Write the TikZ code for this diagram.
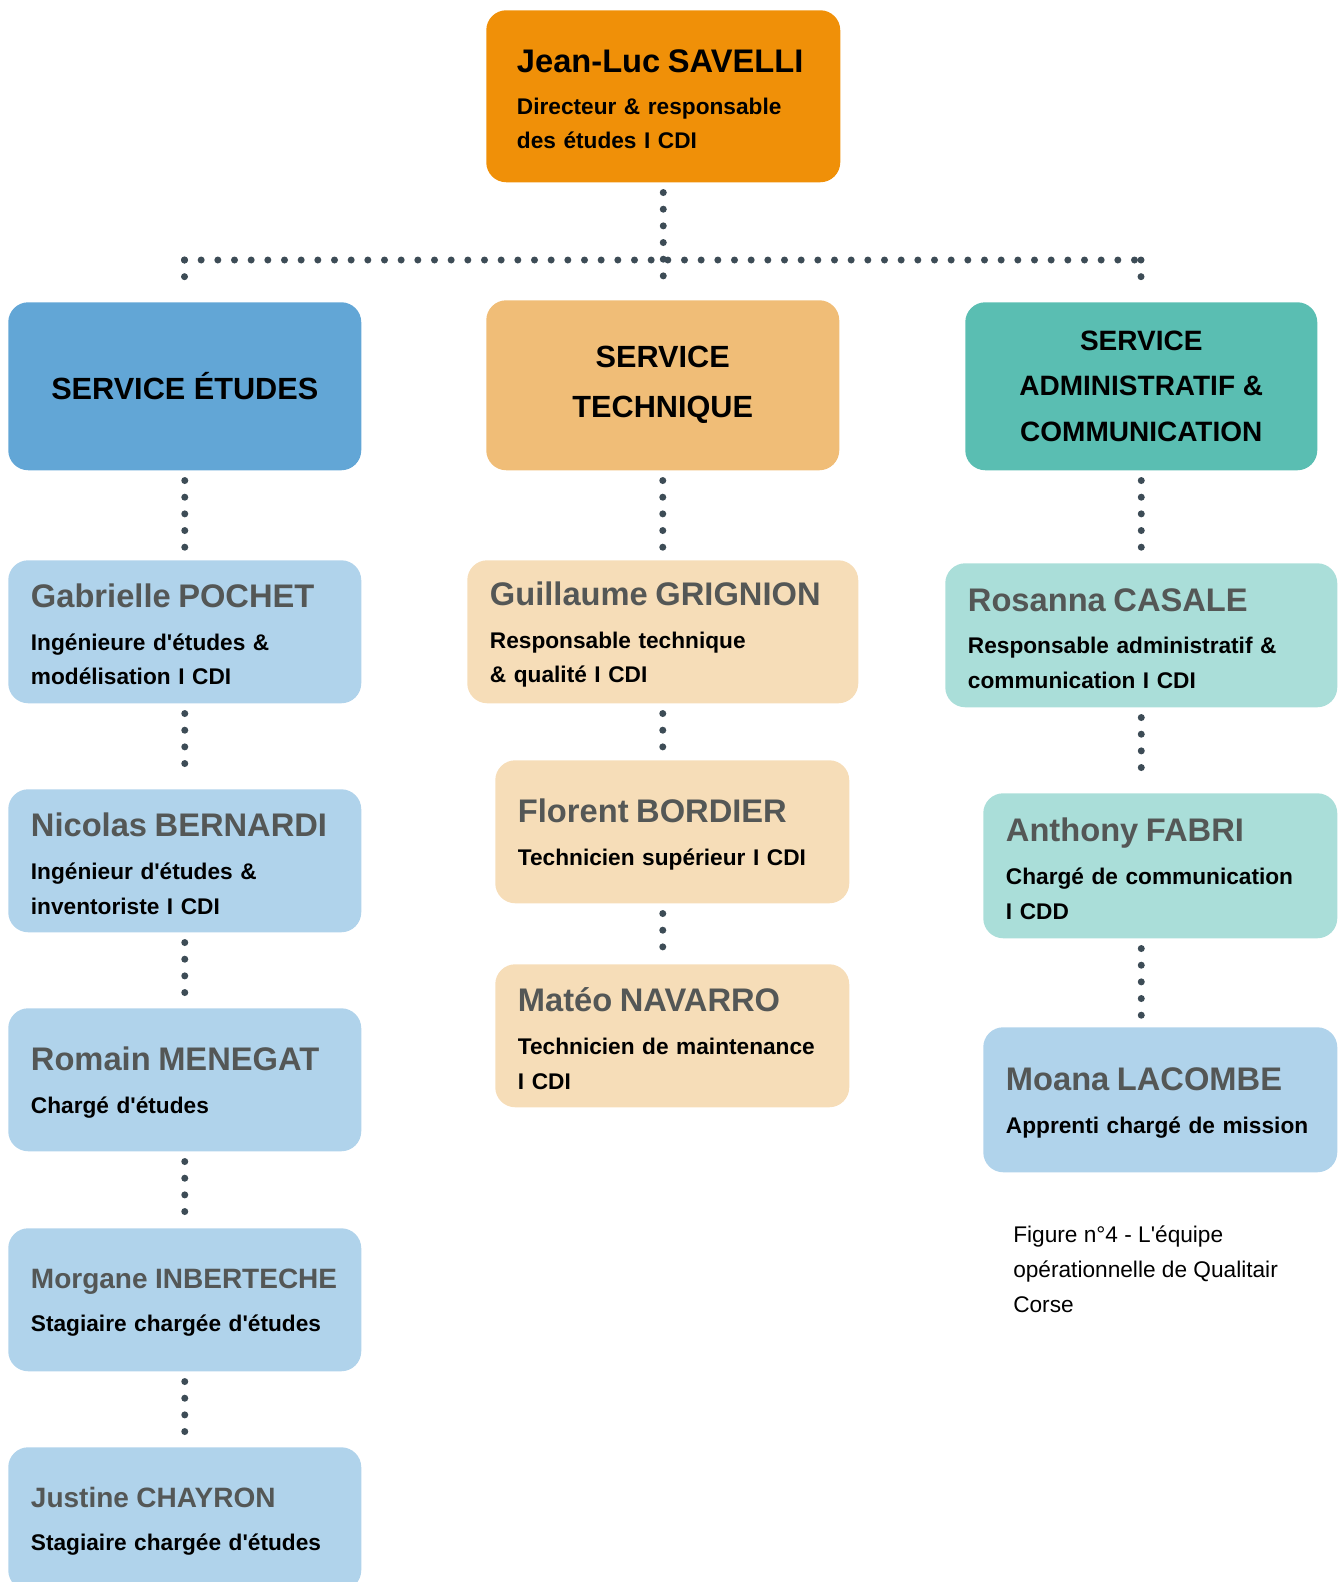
\documentclass[tikz,border=0pt]{standalone}
\usepackage{fontspec}
\setmainfont{Liberation Sans}[Ligatures=TeXOff]
\usepackage{tikz}
\usepackage{color}

\definecolor{bossorange}{RGB}{240,144,8}
\definecolor{etublue}{RGB}{98,166,214}
\definecolor{techsand}{RGB}{240,189,119}
\definecolor{admteal}{RGB}{90,190,178}
\definecolor{lightblue}{RGB}{176,211,235}
\definecolor{lightsand}{RGB}{246,221,184}
\definecolor{lightteal}{RGB}{170,222,217}
\definecolor{dotgrey}{RGB}{61,76,86}
\definecolor{namegrey}{RGB}{84,87,86}

\newcommand{\persname}[1]{{\fontsize{24.5}{26}\selectfont\color{namegrey}\rule{0pt}{22pt}#1}}
\newcommand{\persnamesm}[1]{{\fontsize{21}{24}\selectfont\color{namegrey}\rule{0pt}{19pt}#1}}

\begin{document}
\begin{tikzpicture}[x=0.75pt,y=0.75pt,yscale=-1,xscale=1,
  dotline/.style={color=dotgrey, line width=5.25pt, line cap=round, dash pattern=on 0pt off 12.5pt, shorten <=7.5pt, shorten >=7.5pt},
  persbox/.style={anchor=north west, rounded corners=15pt, inner xsep=17pt, inner ysep=0pt, minimum height=107.25pt, align=left, font=\fontsize{17}{26}\selectfont\bfseries},
  svcbox/.style={anchor=north west, rounded corners=15pt, inner sep=0pt, minimum width=264.75pt, minimum height=126pt, align=center, font=\fontsize{23}{37.5}\selectfont\bfseries}
]
\useasboundingbox (0,0) rectangle (1343,1582);

%director
\node [persbox, fill=bossorange, inner xsep=23pt, text width=219.5pt, minimum height=129pt] (boss) at (486,10) {{\fontsize{24.5}{26}\selectfont\rule{0pt}{22pt}Jean-Luc SAVELLI}\\[5pt]Directeur \& responsable\\des études I CDI};

%services
\node [svcbox, fill=etublue] (svcetu) at (8,302) {SERVICE ÉTUDES};
\node [svcbox, fill=techsand, minimum height=127.5pt] (svctech) at (486,300) {SERVICE\\TECHNIQUE};
\node [svcbox, fill=admteal, minimum width=264pt, font=\fontsize{21}{34}\selectfont\bfseries] (svcadm) at (965,302) {SERVICE\\ADMINISTRATIF \&\\COMMUNICATION};

%service etudes
\node [persbox, fill=lightblue, text width=230.75pt] (gp) at (8,560) {\persname{Gabrielle POCHET}\\[6pt]Ingénieure d'études \&\\modélisation I CDI};
\node [persbox, fill=lightblue, text width=230.75pt] (nb) at (8,789) {\persname{Nicolas BERNARDI}\\[6pt]Ingénieur d'études \&\\inventoriste I CDI};
\node [persbox, fill=lightblue, text width=230.75pt] (rm) at (8,1008) {\persname{Romain MENEGAT}\\[6pt]Chargé d'études};
\node [persbox, fill=lightblue, text width=230.75pt] (mi) at (8,1228) {\persnamesm{Morgane INBERTECHE}\\[6pt]Stagiaire chargée d'études};
\node [persbox, fill=lightblue, text width=230.75pt] (jc) at (8,1447) {\persnamesm{Justine CHAYRON}\\[6pt]Stagiaire chargée d'études};

%service technique
\node [persbox, fill=lightsand, text width=259.25pt] (gg) at (467,560) {\persname{Guillaume GRIGNION}\\[6pt]Responsable technique\\\& qualité I CDI};
\node [persbox, fill=lightsand, text width=231.5pt] (fb) at (495,760) {\persname{Florent BORDIER}\\[6pt]Technicien supérieur I CDI};
\node [persbox, fill=lightsand, text width=231.5pt] (mn) at (495,964) {\persname{Matéo NAVARRO}\\[6pt]Technicien de maintenance\\I CDI};

%service administratif
\node [persbox, fill=lightteal, text width=260pt, minimum height=108pt] (rc) at (945,563) {\persname{Rosanna CASALE}\\[6pt]Responsable administratif \&\\communication I CDI};
\node [persbox, fill=lightteal, text width=231.5pt, minimum height=108.75pt] (af) at (983,793) {\persname{Anthony FABRI}\\[6pt]Chargé de communication\\I CDD};
\node [persbox, fill=lightblue, text width=231.5pt, minimum height=108.75pt] (ml) at (983,1027) {\persname{Moana LACOMBE}\\[6pt]Apprenti chargé de mission};

%caption
\node [anchor=north west, inner sep=0pt, align=left, font=\fontsize{17}{26.25}\selectfont] (caption) at (1013,1226) {Figure n°4 - L'équipe\\opérationnelle de Qualitair\\Corse};

%links
\coordinate (barL) at (184.5,260);
\coordinate (barR) at (1141,260);
\draw [dotline, shorten <=0pt, shorten >=0pt] (barL) -- (barR);
\draw [dotline] (boss.south) -- (boss.south |- svctech.north);
\draw [dotline, shorten <=0pt] (barL) -- (barL |- svcetu.north);
\draw [dotline, shorten <=0pt] (barR) -- (barR |- svcadm.north);

\draw [dotline] (svcetu.south) -- (svcetu.south |- gp.north);
\draw [dotline] (gp.south) -- (gp.south |- nb.north);
\draw [dotline] (nb.south) -- (nb.south |- rm.north);
\draw [dotline] (rm.south) -- (rm.south |- mi.north);
\draw [dotline] (mi.south) -- (mi.south |- jc.north);

\draw [dotline] (svctech.south) -- (svctech.south |- gg.north);
\draw [dotline] (svctech.south |- gg.south) -- (svctech.south |- fb.north);
\draw [dotline] (svctech.south |- fb.south) -- (svctech.south |- mn.north);

\draw [dotline] (svcadm.south) -- (svcadm.south |- rc.north);
\draw [dotline] (svcadm.south |- rc.south) -- (svcadm.south |- af.north);
\draw [dotline] (svcadm.south |- af.south) -- (svcadm.south |- ml.north);

\end{tikzpicture}
\end{document}
